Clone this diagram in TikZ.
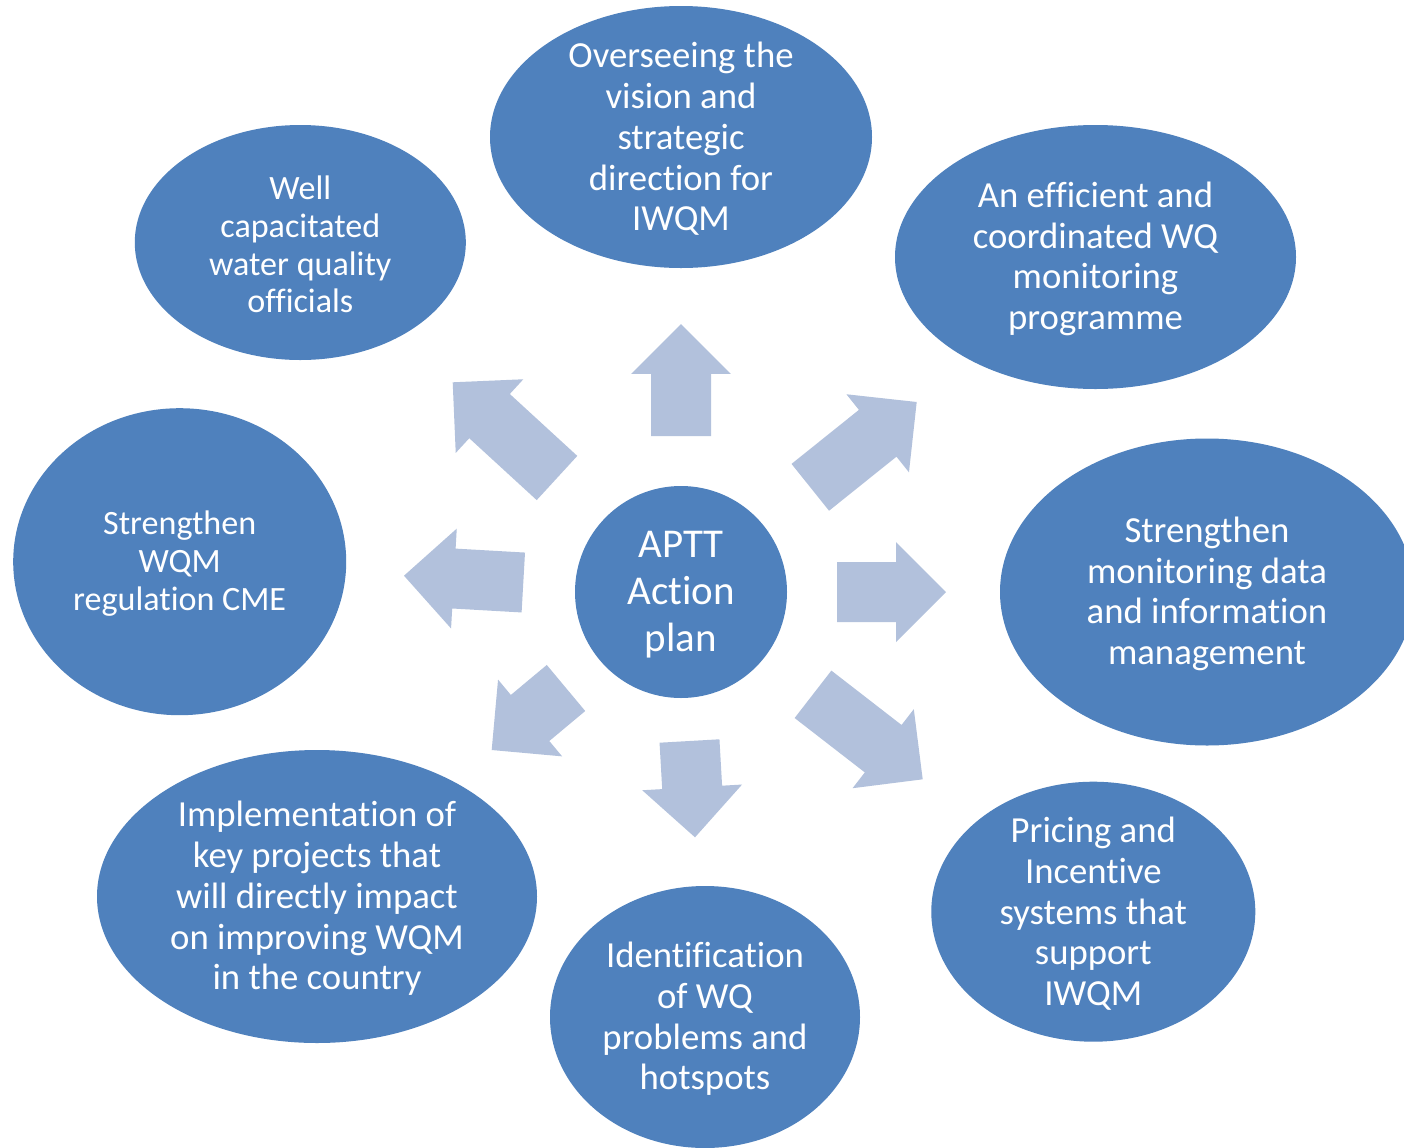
\documentclass[tikz,border=0pt]{standalone}
\usepackage{fontspec}
\setmainfont{Carlito}[Ligatures={NoCommon}]
\usetikzlibrary{shapes.geometric,calc}
\definecolor{bubblefill}{RGB}{79,129,189}
\definecolor{arrowfill}{RGB}{178,193,220}
\tikzset{
  bubble/.style={ellipse, fill=bubblefill, draw=none, inner sep=0pt},
  btext/.style={text=white, align=center, inner sep=0pt, yshift=-0.04cm, font=\fontsize{20.9}{23.2}\selectfont},
  bsmall/.style={text=white, align=center, inner sep=0pt, yshift=-0.04cm, font=\fontsize{19.4}{21.5}\selectfont},
  hub/.style={circle, fill=bubblefill, draw=none, inner sep=0pt, text=white, align=center,
    minimum size=212*0.02cm, font=\fontsize{23.3}{26.6}\selectfont},
  blockfill/.style={fill=arrowfill, draw=none}
}
\newcommand\blockarrow[3]{%
  \path (#2) coordinate (#1-t) (#3) coordinate (#1-p);
  \path ($(#1-p)!1cm!(#1-t)$) coordinate (#1-h);
  \fill[blockfill] ($(#1-t)!0.6cm!90:(#1-p)$) -- ($(#1-h)!0.6cm!-90:(#1-t)$)
    -- ($(#1-h)!1cm!-90:(#1-t)$) -- (#1-p) -- ($(#1-h)!1cm!90:(#1-t)$)
    -- ($(#1-h)!0.6cm!90:(#1-t)$) -- ($(#1-t)!0.6cm!-90:(#1-p)$) -- cycle;
}
\begin{document}
\begin{tikzpicture}[x=0.02cm, y=-0.02cm]
\useasboundingbox (0,0) rectangle (1404,1147);
\clip (0,0) rectangle (1404,1147);
\fill[white] (0,0) rectangle (1404,1147);

% outer ellipses
\node[bubble, minimum width=382*0.02cm, minimum height=262*0.02cm] (top) at (681,137) {};
\node[btext] (toptxt) at (top.center) {Overseeing the\\vision and\\strategic\\direction for\\IWQM};

\node[bubble, minimum width=401*0.02cm, minimum height=264*0.02cm] (tr) at (1095.5,257) {};
\node[btext] (trtxt) at (tr.center) {An efficient and\\coordinated WQ\\monitoring\\programme};

\node[bubble, minimum width=414*0.02cm, minimum height=307*0.02cm] (rt) at (1207,592) {};
\node[btext] (rttxt) at (rt.center) {Strengthen\\monitoring data\\and information\\management};

\node[bubble, minimum width=324*0.02cm, minimum height=260*0.02cm] (br) at (1093.3,911.7) {};
\node[btext] (brtxt) at (br.center) {Pricing and\\Incentive\\systems that\\support\\IWQM};

\node[bubble, minimum width=310*0.02cm, minimum height=262*0.02cm] (bt) at (705,1017) {};
\node[btext] (bttxt) at (bt.center) {Identification\\of WQ\\problems and\\hotspots};

\node[bubble, minimum width=440*0.02cm, minimum height=293*0.02cm] (bl) at (317,896.5) {};
\node[btext] (bltxt) at (bl.center) {Implementation of\\key projects that\\will directly impact\\on improving WQM\\in the country};

\node[bubble, minimum width=333*0.02cm, minimum height=307*0.02cm] (lf) at (179.7,561.7) {};
\node[bsmall] (lftxt) at (lf.center) {Strengthen\\WQM\\regulation CME};

\node[bubble, minimum width=331*0.02cm, minimum height=235*0.02cm] (tl) at (300.3,242.5) {};
\node[bsmall] (tltxt) at (tl.center) {Well\\capacitated\\water quality\\officials};

% hub
\node[hub] (hub) at (681,592) {};
\node[text=white, align=center, inner sep=0pt, yshift=-0.05cm, font=\fontsize{23.3}{26.6}\selectfont] (hubtxt) at (hub.center) {APTT\\Action\\plan};

% block arrows (tail, tip)
\blockarrow{aU}{681,436}{681,324}
\blockarrow{aUR}{810.3,487.3}{916.7,402}
\blockarrow{aR}{837,592}{946,592}
\blockarrow{aDR}{813,694.3}{922.7,779.3}
\blockarrow{aD}{689.5,741}{695,837.3}
\blockarrow{aDL}{566,688}{491.7,750}
\blockarrow{aL}{523.3,582.5}{404,575.7}
\blockarrow{aUL}{557,478}{452.7,382.3}
\end{tikzpicture}
\end{document}
